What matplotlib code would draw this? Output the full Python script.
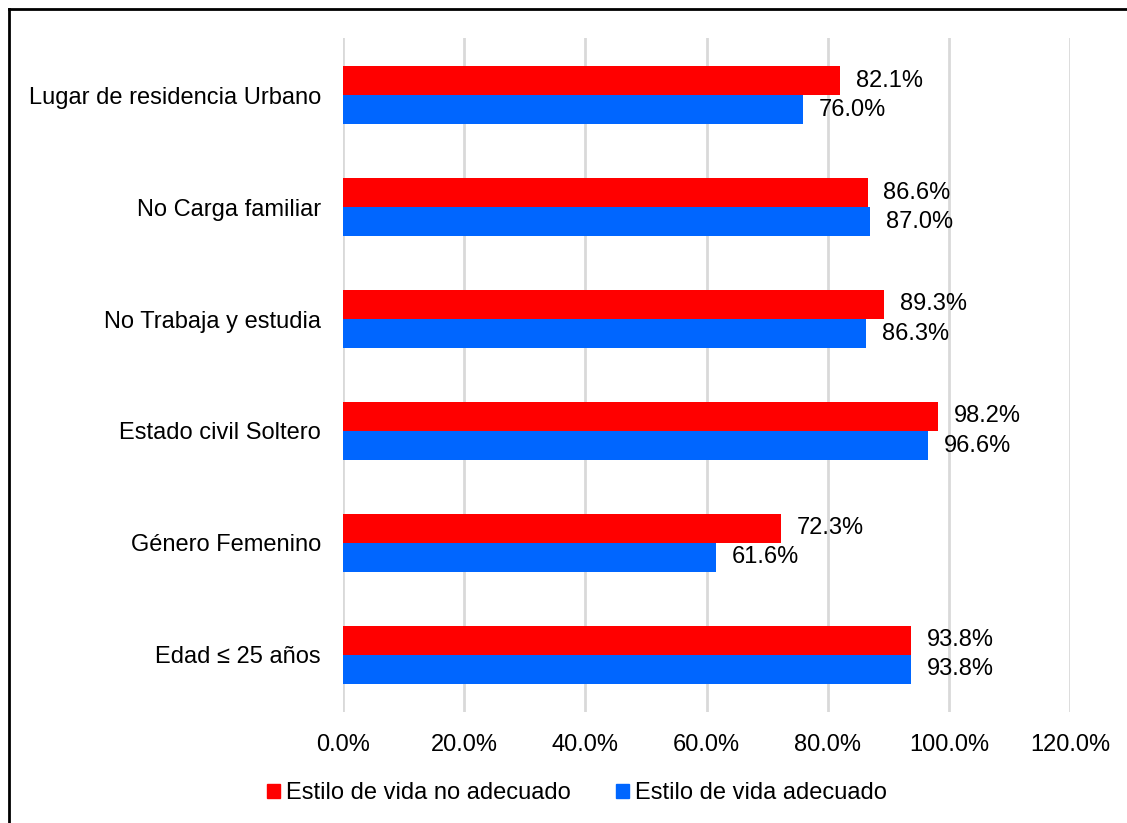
import matplotlib.pyplot as plt
from matplotlib.lines import Line2D
from matplotlib.patches import Patch
import numpy as np

plt.rcParams['font.family'] = ['Liberation Sans', 'DejaVu Sans']

categorias = ["Edad \u2264 25 años", "Género Femenino", "Estado civil Soltero",
              "No Trabaja y estudia", "No Carga familiar", "Lugar de residencia Urbano"]
no_adecuado = [93.8, 72.3, 98.2, 89.3, 86.6, 82.1]
adecuado = [93.8, 61.6, 96.6, 86.3, 87.0, 76.0]
ticks = [0, 20, 40, 60, 80, 100, 120]

rojo = "#FF0000"
azul = "#0066FF"
fs = 17

fig = plt.figure(figsize=(11.27, 8.23), dpi=100)
ax = fig.add_axes([343 / 1127, 1 - 712 / 823, (1070 - 343) / 1127, (712 - 38) / 823])

y = np.arange(len(categorias))
h = 0.26
ax.barh(y + h / 2, no_adecuado, height=h, color=rojo, zorder=3)
ax.barh(y - h / 2, adecuado, height=h, color=azul, zorder=3)

for yi, v in zip(y, no_adecuado):
    ax.text(v + 2.6, yi + h / 2, f"{v:.1f}%", va="center", ha="left", fontsize=fs)
for yi, v in zip(y, adecuado):
    ax.text(v + 2.6, yi - h / 2, f"{v:.1f}%", va="center", ha="left", fontsize=fs)

ax.set_xlim(0, 120)
ax.set_ylim(-0.51, 5.51)
ax.set_xticks(ticks)
ax.set_xticklabels([f"{t:.1f}%" for t in ticks], fontsize=fs)
ax.set_yticks(y)
ax.set_yticklabels(categorias, fontsize=fs)
ax.tick_params(axis="both", length=0)
ax.tick_params(axis="x", pad=16)
ax.tick_params(axis="y", pad=16)
for s in ax.spines.values():
    s.set_visible(False)
ax.xaxis.grid(True, color="#d9d9d9", linewidth=2, zorder=0)
ax.set_axisbelow(True)

handles = [Patch(color=rojo, label="Estilo de vida no adecuado"),
           Patch(color=azul, label="Estilo de vida adecuado")]
fig.legend(handles=handles, loc="center", bbox_to_anchor=(577 / 1127, 1 - 793 / 823),
           ncol=2, frameon=False, fontsize=fs, handlelength=0.55, handleheight=0.55,
           handletextpad=0.25, columnspacing=1.95, borderpad=0)

# marco exterior (solo arriba e izquierda quedan dentro de la imagen)
fig.add_artist(Line2D([8.5 / 1127, 1], [1 - 8.5 / 823, 1 - 8.5 / 823], color="black", linewidth=2, transform=fig.transFigure))
fig.add_artist(Line2D([8.5 / 1127, 8.5 / 1127], [0, 1 - 8.5 / 823], color="black", linewidth=2, transform=fig.transFigure))

fig.savefig("out.png", dpi=100)
